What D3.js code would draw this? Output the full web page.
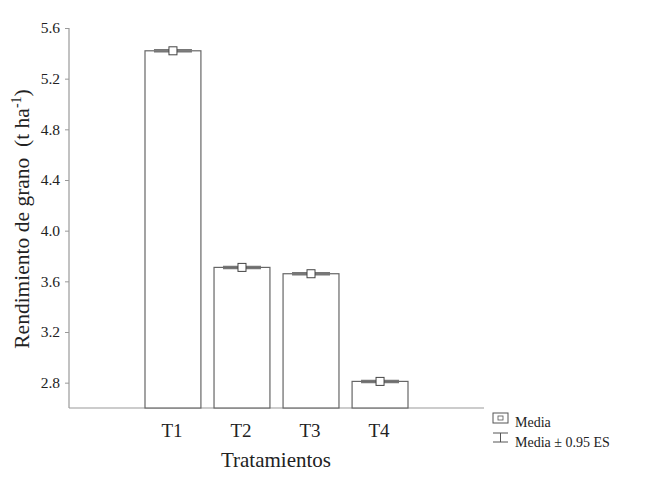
<!DOCTYPE html>
<html><head><meta charset="utf-8">
<script src="https://cdn.jsdelivr.net/npm/d3@7"></script>
<style>body{margin:0;background:#fff}svg{display:block}text{font-family:"Liberation Serif","Times New Roman",serif;fill:#222}</style>
</head><body><svg id="c" width="647" height="503"></svg>
<script>
const categories = ["T1","T2","T3","T4"];
const means = [5.42, 3.71, 3.66, 2.81];
const errors = [0.008, 0.008, 0.008, 0.008];
const yTicks = [2.8, 3.2, 3.6, 4.0, 4.4, 4.8, 5.2, 5.6];

const svg = d3.select("#c");
const y = d3.scaleLinear().domain([2.6, 5.6]).range([408, 28]);
const x = d3.scaleBand().domain(categories).range([145, 408]).paddingInner(0.19).paddingOuter(0);

// axes
svg.append("line").attr("x1",69).attr("x2",69).attr("y1",y(5.6)).attr("y2",y(2.6)).attr("stroke","#999").attr("stroke-width",1.2);
svg.append("line").attr("x1",69).attr("x2",484).attr("y1",y(2.6)).attr("y2",y(2.6)).attr("stroke","#999").attr("stroke-width",1.2);
const yAxis = d3.axisLeft(y).tickValues(yTicks).tickFormat(d3.format(".1f")).tickSize(4).tickPadding(5);
const ga = svg.append("g").attr("transform","translate(69,0)").call(yAxis);
ga.attr("font-family", null).attr("font-size", null);
ga.select(".domain").remove();
ga.selectAll("line").attr("stroke","#999");
ga.selectAll("text").attr("font-size",15.5).attr("fill","#333");

// bars
svg.selectAll("rect.bar").data(categories).enter().append("rect")
  .attr("x", d => x(d)).attr("width", x.bandwidth())
  .attr("y", (d,i) => y(means[i])).attr("height", (d,i) => y(2.6) - y(means[i]))
  .attr("fill","#fff").attr("stroke","#666").attr("stroke-width",1.2);

// error bars
const capW = 38;
categories.forEach((c,i) => {
  const cx = x(c) + x.bandwidth()/2;
  [means[i]+errors[i], means[i]-errors[i]].forEach(v => {
    svg.append("line").attr("x1",cx-capW/2).attr("x2",cx+capW/2).attr("y1",y(v)).attr("y2",y(v))
      .attr("stroke","#777").attr("stroke-width",1.5);
  });
  svg.append("rect").attr("x",cx-4).attr("y",y(means[i])-4).attr("width",8).attr("height",8)
    .attr("fill","#fff").attr("stroke","#444").attr("stroke-width",1);
});

// x labels
svg.selectAll("text.xl").data(categories).enter().append("text")
  .attr("x", d => x(d)+x.bandwidth()/2 - 1).attr("y", 437).attr("text-anchor","middle")
  .attr("font-size",19).text(d => d);

svg.append("text").attr("x",276).attr("y",467).attr("text-anchor","middle").attr("font-size",21).text("Tratamientos");

const yl = svg.append("text").attr("transform","translate(29,219) rotate(-90)").attr("text-anchor","middle")
  .attr("font-size",21.5).style("white-space","pre");
yl.append("tspan").text("Rendimiento de grano  (t ha");
yl.append("tspan").attr("dy",-8).attr("font-size",14).text("-1");
yl.append("tspan").attr("dy",8).text(")");

// legend
svg.append("rect").attr("x",493).attr("y",413).attr("width",15).attr("height",10).attr("fill","#fff").attr("stroke","#555");
svg.append("rect").attr("x",498).attr("y",416).attr("width",5).attr("height",4).attr("fill","#fff").attr("stroke","#555").attr("stroke-width",0.8);
svg.append("text").attr("x",515).attr("y",427).attr("font-size",14).text("Media");
svg.append("line").attr("x1",493).attr("x2",508).attr("y1",433).attr("y2",433).attr("stroke","#555");
svg.append("line").attr("x1",500.5).attr("x2",500.5).attr("y1",433).attr("y2",442).attr("stroke","#555");
svg.append("line").attr("x1",493).attr("x2",508).attr("y1",442).attr("y2",442).attr("stroke","#555");
svg.append("text").attr("x",515).attr("y",447).attr("font-size",14).text("Media ± 0.95 ES");
</script></body></html>
